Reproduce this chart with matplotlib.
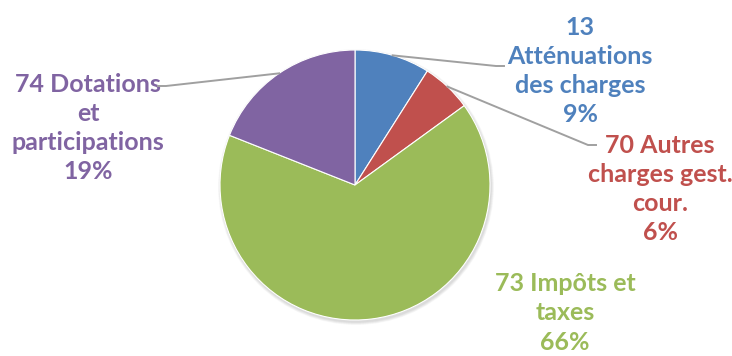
import numpy as np
import matplotlib.pyplot as plt

labels = ["13\nAtténuations\ndes charges", "70 Autres\ncharges gest.\ncour.",
          "73 Impôts et\ntaxes", "74 Dotations\net\nparticipations"]
values = [9, 6, 66, 19]
colors = ["#4F81BD", "#C0504D", "#9BBB59", "#8064A2"]

# label centres (pixels, y from top) and leader-line elbows
label_pos = [(580, 71), (660, 189), (565, 313), (88, 128)]
elbow = [(496, 66), (588, 145), None, (166, 86)]

W, H = 732, 356
fig = plt.figure(figsize=(W / 100, H / 100), dpi=100)
ax = fig.add_axes([0, 0, 1, 1])

cx, cy, r = 355, 185, 135
# soft shadow
for k in range(6):
    ax.add_patch(plt.Circle((cx + 1, cy + 2), r + 3 - k * 0.5, color="black",
                            alpha=0.025, lw=0, zorder=0))

# y axis inverted, so counterclock in data runs clockwise on screen from the top
wedges, _ = ax.pie(values, colors=colors, startangle=-90, counterclock=True,
                   radius=r, center=(cx, cy), frame=True,
                   wedgeprops=dict(linewidth=0.8, edgecolor="white"))
ax.set_xlim(0, W)
ax.set_ylim(H, 0)
ax.set_aspect("equal")
ax.axis("off")

total = sum(values)
for w, lab, v, c, pos, el in zip(wedges, labels, values, colors, label_pos, elbow):
    txt = f"{lab}\n{round(v / total * 100)}%"
    ax.text(pos[0], pos[1], txt, ha="center", va="center", color=c,
            fontsize=18, fontweight="bold", family="Lato", linespacing=1.33)
    if el is not None:
        ang = np.deg2rad((w.theta1 + w.theta2) / 2)
        sx, sy = cx + r * np.cos(ang), cy + r * np.sin(ang)
        ex = el[0] + (8 if el[0] > cx else -8)
        ax.plot([sx, el[0], ex], [sy, el[1], el[1]], color="#a0a0a0", lw=1.4,
                zorder=3)

fig.savefig("out.png", dpi=100)
